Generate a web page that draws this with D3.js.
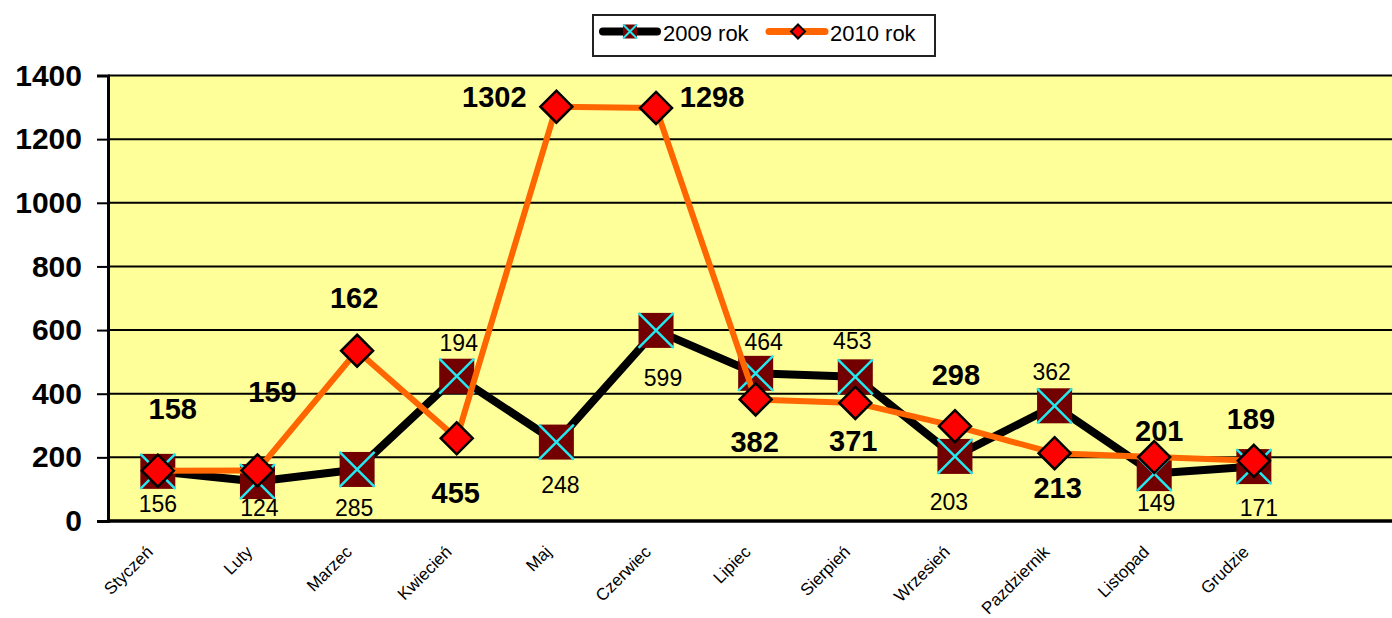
<!DOCTYPE html>
<html>
<head>
<meta charset="utf-8">
<script src="https://cdn.jsdelivr.net/npm/d3@7"></script>
<style>
html,body{margin:0;padding:0;background:#fff;}
svg{display:block;font-family:"Liberation Sans",Arial,sans-serif;}
</style>
</head>
<body>
<svg id="chart" width="1392" height="618"></svg>
<script>
// ---- data ----
const months = ["Styczeń","Luty","Marzec","Kwiecień","Maj","Czerwiec","Lipiec","Sierpień","Wrzesień","Pazdziernik","Listopad","Grudzie"];
const values2009 = [156,124,162,455,248,599,464,453,203,362,149,171];
const values2010 = [158,159,535,260,1302,1298,382,371,298,213,201,189];
const labels2009 = ["156","124","285","194","248","599","464","453","203","362","149","171"];
const labels2010 = ["158","159","162","455","1302","1298","382","371","298","213","201","189"];
const yTicks = [0,200,400,600,800,1000,1200,1400];
const seriesNames = ["2009 rok","2010 rok"];

// label placement (text centre offset from its marker, px)
const off2009 = [[0,33],[2,26],[-3,39],[2,-33],[4,43],[7,48],[8,-31],[-3,-36],[-6,46],[-3,-34],[2,29],[5,41]];
const off2010 = [[15,-62],[15,-78],[-3,-53],[-1,55],[-62,-10],[56,-11],[-1,43],[-2,38],[1,-51],[3,35],[5,-26],[-3,-42]];

const svg = d3.select("#chart");
const W = 1392;
const plot = {left:108, top:75.5, bottom:521};
const step = 99.64;

const x = d3.scaleBand().domain(months).range([plot.left, plot.left + step*months.length]).padding(0);
const y = d3.scaleLinear().domain([0,1400]).range([plot.bottom, plot.top]);
const cx = m => x(m) + x.bandwidth()/2;

// plot background
svg.append("rect").attr("x", plot.left).attr("y", plot.top)
  .attr("width", W - plot.left + 20).attr("height", plot.bottom - plot.top)
  .attr("fill", "#FFFF99");

// gridlines
svg.append("g").selectAll("line").data(yTicks.filter(t => t > 0)).join("line")
  .attr("x1", plot.left).attr("x2", W + 20)
  .attr("y1", d => y(d)).attr("y2", d => y(d))
  .attr("stroke", "#000").attr("stroke-width", 2);

// y axis
const yAxis = d3.axisLeft(y).tickValues(yTicks).tickSize(11).tickPadding(15).tickFormat(d3.format("d"));
const gy = svg.append("g").attr("transform", `translate(${plot.left},0)`).call(yAxis);
gy.select(".domain").attr("stroke", "#000").attr("stroke-width", 3);
gy.selectAll(".tick line").attr("stroke", "#000").attr("stroke-width", 2);
gy.selectAll(".tick text").attr("font-size", 30).attr("font-weight", "bold")
  .attr("fill", "#000").attr("font-family", "'Liberation Sans', Arial, sans-serif");

// x axis line
svg.append("line").attr("x1", plot.left - 1).attr("x2", W + 20)
  .attr("y1", plot.bottom).attr("y2", plot.bottom)
  .attr("stroke", "#000").attr("stroke-width", 3.5);

// category labels
svg.append("g").selectAll("text").data(months).join("text")
  .attr("transform", d => `translate(${cx(d) - 4},${553}) rotate(-45)`)
  .attr("text-anchor", "end")
  .attr("font-size", 17)
  .attr("fill", "#000")
  .text(d => d);

const line = d3.line().x((d,i) => cx(months[i])).y(d => y(d));

// series 2009
svg.append("path").datum(values2009).attr("d", line)
  .attr("fill", "none").attr("stroke", "#000").attr("stroke-width", 8).attr("stroke-linejoin", "round");
const sq = 35;
const g09 = svg.append("g").selectAll("g").data(values2009).join("g")
  .attr("transform", (d,i) => `translate(${cx(months[i])},${y(d)})`);
g09.append("rect").attr("x", -sq/2).attr("y", -sq/2).attr("width", sq).attr("height", sq).attr("fill", "#720000");
g09.append("path").attr("d", `M${-sq/2},${-sq/2}L${sq/2},${sq/2}M${sq/2},${-sq/2}L${-sq/2},${sq/2}`)
  .attr("stroke", "#22E8F0").attr("stroke-width", 2.5);

// series 2010
svg.append("path").datum(values2010).attr("d", line)
  .attr("fill", "none").attr("stroke", "#FF6600").attr("stroke-width", 6).attr("stroke-linejoin", "round");
const dm = 16;
svg.append("g").selectAll("path").data(values2010).join("path")
  .attr("transform", (d,i) => `translate(${cx(months[i])},${y(d)})`)
  .attr("d", `M0,${-dm}L${dm},0L0,${dm}L${-dm},0Z`)
  .attr("fill", "#FF0000").attr("stroke", "#000").attr("stroke-width", 2.5);

// data labels
svg.append("g").selectAll("text").data(values2009).join("text")
  .attr("x", (d,i) => cx(months[i]) + off2009[i][0])
  .attr("y", (d,i) => y(d) + off2009[i][1])
  .attr("text-anchor", "middle").attr("dominant-baseline", "central")
  .attr("font-size", 23).attr("fill", "#000")
  .text((d,i) => labels2009[i]);
svg.append("g").selectAll("text").data(values2010).join("text")
  .attr("x", (d,i) => cx(months[i]) + off2010[i][0])
  .attr("y", (d,i) => y(d) + off2010[i][1])
  .attr("text-anchor", "middle").attr("dominant-baseline", "central")
  .attr("font-size", 29).attr("font-weight", "bold").attr("fill", "#000")
  .text((d,i) => labels2010[i]);

// legend
const lg = svg.append("g");
lg.append("rect").attr("x", 593).attr("y", 15).attr("width", 342).attr("height", 41)
  .attr("fill", "#fff").attr("stroke", "#222").attr("stroke-width", 2);
// 2009 entry
lg.append("line").attr("x1", 603).attr("x2", 657).attr("y1", 31.5).attr("y2", 31.5)
  .attr("stroke", "#000").attr("stroke-width", 8).attr("stroke-linecap", "round");
const ls = 14;
lg.append("rect").attr("x", 630 - ls/2).attr("y", 31.5 - ls/2).attr("width", ls).attr("height", ls).attr("fill", "#720000");
lg.append("path").attr("d", `M${630-ls/2},${31.5-ls/2}L${630+ls/2},${31.5+ls/2}M${630+ls/2},${31.5-ls/2}L${630-ls/2},${31.5+ls/2}`)
  .attr("stroke", "#22E8F0").attr("stroke-width", 2);
lg.append("text").attr("x", 663).attr("y", 40.5).attr("font-size", 22).attr("fill", "#000").text(seriesNames[0]);
// 2010 entry
lg.append("line").attr("x1", 769).attr("x2", 825).attr("y1", 31.5).attr("y2", 31.5)
  .attr("stroke", "#FF6600").attr("stroke-width", 7).attr("stroke-linecap", "round");
const ld = 7;
lg.append("path").attr("transform", "translate(798,31.5)")
  .attr("d", `M0,${-ld}L${ld},0L0,${ld}L${-ld},0Z`)
  .attr("fill", "#FF0000").attr("stroke", "#000").attr("stroke-width", 2);
lg.append("text").attr("x", 830).attr("y", 40.5).attr("font-size", 22).attr("fill", "#000").text(seriesNames[1]);
</script>
</body>
</html>
